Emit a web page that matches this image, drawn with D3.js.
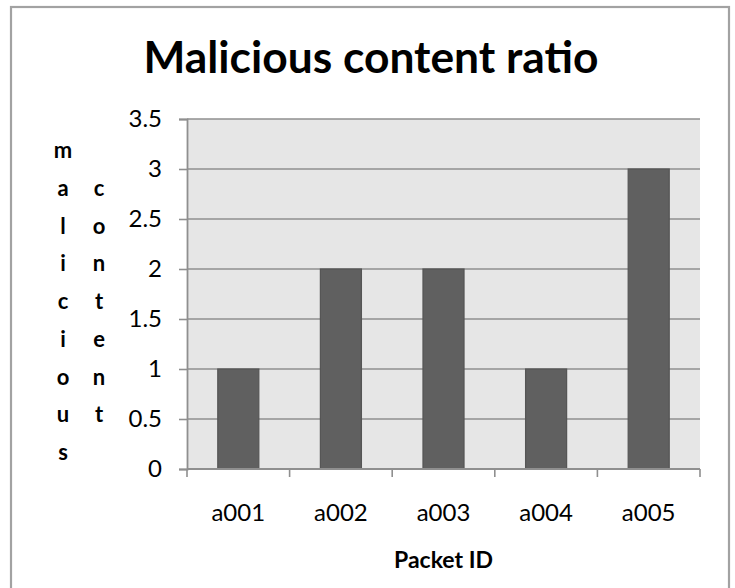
<!DOCTYPE html>
<html>
<head>
<meta charset="utf-8">
<script src="https://cdn.jsdelivr.net/npm/d3@7"></script>
<style>
  html, body { margin: 0; padding: 0; background: #fff; }
  svg { display: block; }
</style>
</head>
<body>
<svg id="chart" width="735" height="588"></svg>
<script>
// Packet IDs and the malicious content ratio measured for each
const categories = ["a001", "a002", "a003", "a004", "a005"];
const values = [1, 2, 2, 1, 3];
const yTicks = [0, 0.5, 1, 1.5, 2, 2.5, 3, 3.5];
const titleText = "Malicious content ratio";
const xTitle = "Packet ID";
const yTitleColumns = ["malicious", "content"];

const svg = d3.select("#chart");
const font = "Lato, 'Open Sans', sans-serif";

// chart frame
svg.append("rect")
  .attr("x", 11).attr("y", 7)
  .attr("width", 718).attr("height", 600)
  .attr("fill", "#fff")
  .attr("stroke", "#a2a2a2")
  .attr("stroke-width", 2.2);

const plot = { left: 187, right: 700, top: 119, bottom: 469 };

const x = d3.scaleBand()
  .domain(categories)
  .range([plot.left, plot.right])
  .paddingInner(0.6)
  .paddingOuter(0.3);

const y = d3.scaleLinear()
  .domain([0, 3.5])
  .range([plot.bottom, plot.top]);

// plot background
svg.append("rect")
  .attr("x", plot.left).attr("y", plot.top)
  .attr("width", plot.right - plot.left)
  .attr("height", plot.bottom - plot.top)
  .attr("fill", "#e6e6e6");

// horizontal gridlines
svg.append("g")
  .selectAll("line")
  .data(yTicks.filter(t => t > 0))
  .join("line")
  .attr("x1", plot.left).attr("x2", plot.right)
  .attr("y1", d => y(d)).attr("y2", d => y(d))
  .attr("stroke", "#8f8f8f")
  .attr("stroke-width", 1.6);

// bars
svg.append("g")
  .selectAll("rect")
  .data(values)
  .join("rect")
  .attr("x", (d, i) => x(categories[i]))
  .attr("y", d => y(d))
  .attr("width", x.bandwidth())
  .attr("height", d => y(0) - y(d))
  .attr("fill", "#606060")
  .attr("stroke", "#555555")
  .attr("stroke-width", 1.2);

// y axis
const yAxis = svg.append("g")
  .attr("transform", `translate(${plot.left},0)`)
  .call(d3.axisLeft(y).tickValues(yTicks).tickFormat(d3.format("")).tickSize(8).tickPadding(17));
yAxis.select(".domain").attr("stroke", "#8f8f8f").attr("stroke-width", 1.8);
yAxis.selectAll(".tick line").attr("stroke", "#8f8f8f").attr("stroke-width", 1.6);
yAxis.selectAll(".tick text")
  .attr("font-family", font).attr("font-size", 24).attr("fill", "#000");

// x axis with ticks at category boundaries
const step = x.step();
const boundaries = d3.range(categories.length + 1)
  .map(i => plot.left + i * step);
const xAxisG = svg.append("g");
xAxisG.append("line")
  .attr("x1", plot.left).attr("x2", plot.right)
  .attr("y1", y(0)).attr("y2", y(0))
  .attr("stroke", "#8f8f8f").attr("stroke-width", 1.8);
xAxisG.selectAll("line.tk")
  .data(boundaries)
  .join("line")
  .attr("class", "tk")
  .attr("x1", d => d).attr("x2", d => d)
  .attr("y1", y(0)).attr("y2", y(0) + 8)
  .attr("stroke", "#8f8f8f").attr("stroke-width", 1.6);
xAxisG.selectAll("text")
  .data(categories)
  .join("text")
  .attr("x", d => x(d) + x.bandwidth() / 2)
  .attr("y", 521)
  .attr("text-anchor", "middle")
  .attr("font-family", font).attr("font-size", 24).attr("fill", "#000")
  .text(d => d);

// title
svg.append("text")
  .attr("x", 371).attr("y", 73)
  .attr("text-anchor", "middle")
  .attr("font-family", font).attr("font-weight", 700)
  .attr("font-size", 43).attr("fill", "#000")
  .attr("textLength", 455).attr("lengthAdjust", "spacingAndGlyphs")
  .text(titleText);

// x axis title
svg.append("text")
  .attr("x", (plot.left + plot.right) / 2).attr("y", 568)
  .attr("text-anchor", "middle")
  .attr("font-family", font).attr("font-weight", 700)
  .attr("font-size", 23).attr("fill", "#000")
  .text(xTitle);

// y axis title, stacked letters in two columns
const colX = [63, 99];
const rowStart = 158, rowGap = 37.75;
yTitleColumns.forEach((word, c) => {
  svg.append("g").selectAll("text")
    .data(word.split(""))
    .join("text")
    .attr("x", colX[c])
    .attr("y", (d, i) => rowStart + (i + c) * rowGap)
    .attr("text-anchor", "middle")
    .attr("font-family", font).attr("font-weight", 700)
    .attr("font-size", 22).attr("fill", "#000")
    .text(d => d);
});
</script>
</body>
</html>
